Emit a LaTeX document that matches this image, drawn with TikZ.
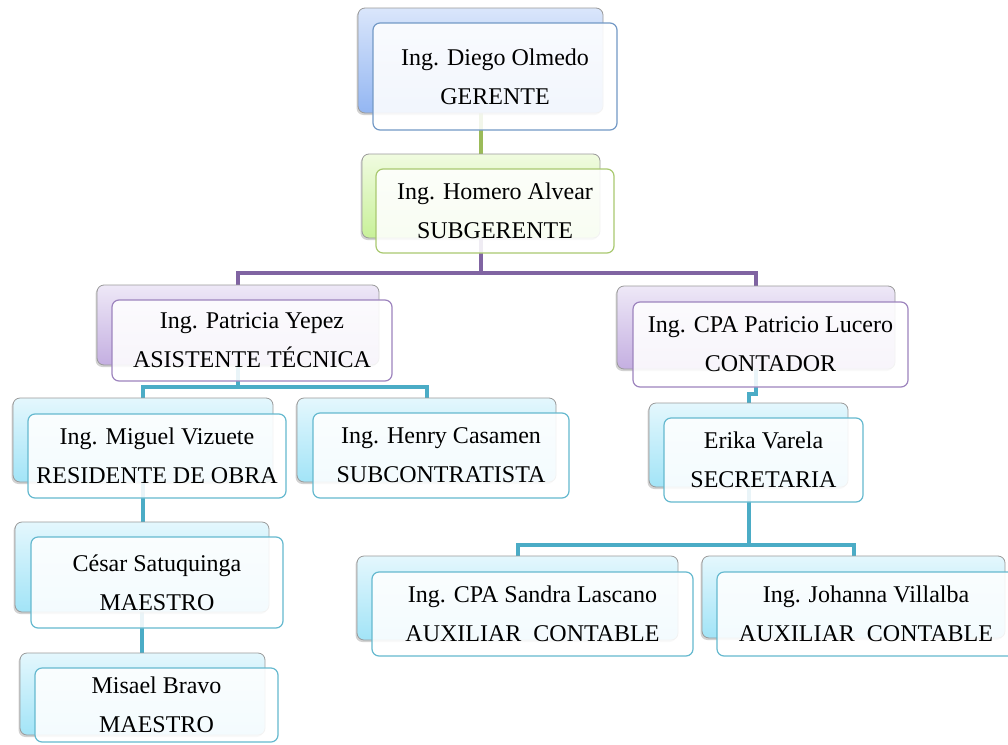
\documentclass[tikz,border=0pt]{standalone}
\usepackage{fontspec}
\setmainfont{Liberation Serif}
\usetikzlibrary{shadows}
\pgfdeclarelayer{bg}
\pgfsetlayers{bg,main}
\definecolor{bluetop}{HTML}{DAE6FB}
\definecolor{bluebot}{HTML}{93B6F2}
\definecolor{blueedge}{HTML}{7399C6}
\definecolor{greentop}{HTML}{F0FBE0}
\definecolor{greenbot}{HTML}{C8F199}
\definecolor{greenedge}{HTML}{A9C970}
\definecolor{greenline}{HTML}{9BBB59}
\definecolor{purptop}{HTML}{EEE8F7}
\definecolor{purpbot}{HTML}{C4AFE1}
\definecolor{purpedge}{HTML}{9D84BE}
\definecolor{purpline}{HTML}{8064A2}
\definecolor{tealtop}{HTML}{E4F7FD}
\definecolor{tealbot}{HTML}{A2E4F7}
\definecolor{tealedge}{HTML}{65B9CF}
\definecolor{tealline}{HTML}{4BACC6}
\definecolor{backedge}{HTML}{9A9A9A}
\begin{document}
\begin{tikzpicture}[x=1pt,y=-1pt,
  back/.style={rectangle, rounded corners=7pt, inner sep=0pt, draw=backedge, line width=0.8pt,
     drop shadow={opacity=0.35, shadow xshift=-1.5pt, shadow yshift=-2pt}},
  bblue/.style={back, top color=bluetop, bottom color=bluebot},
  bgreen/.style={back, top color=greentop, bottom color=greenbot},
  bpurp/.style={back, top color=purptop, bottom color=purpbot},
  bteal/.style={back, top color=tealtop, bottom color=tealbot},
  front/.style={rectangle, rounded corners=7pt, inner sep=0pt, line width=1.2pt,
     fill=white, fill opacity=0.88, text opacity=1, align=center,
     font=\fontsize{24}{39}\selectfont},
  fblue/.style={front, draw=blueedge},
  fgreen/.style={front, draw=greenedge},
  fpurp/.style={front, draw=purpedge},
  fteal/.style={front, draw=tealedge},
  conn/.style={line width=4pt},
]
\useasboundingbox (0,0) rectangle (1008,744);

% back boxes
\node[bblue, minimum width=245, minimum height=105] (gB) at (480.5,60.5) {};
\node[bgreen, minimum width=238, minimum height=84] (sB) at (481,196) {};
\node[bpurp, minimum width=282, minimum height=80] (pB) at (238,325) {};
\node[bpurp, minimum width=278, minimum height=83] (cB) at (756,327.5) {};
\node[bteal, minimum width=260, minimum height=84] (mB) at (143,440) {};
\node[bteal, minimum width=259, minimum height=84] (hB) at (426.5,440) {};
\node[bteal, minimum width=199, minimum height=84] (eB) at (748.5,445) {};
\node[bteal, minimum width=254, minimum height=90] (ceB) at (142,567) {};
\node[bteal, minimum width=245, minimum height=82] (miB) at (142.5,694) {};
\node[bteal, minimum width=321, minimum height=84] (saB) at (517.5,598) {};
\node[bteal, minimum width=303, minimum height=82] (jB) at (853.5,597) {};

% bus coordinates
\coordinate (bus1) at (0,273);
\coordinate (bus2) at (0,387);
\coordinate (bus3) at (0,394);
\coordinate (bus4) at (0,545);

% connectors behind the boxes
\begin{pgfonlayer}{bg}
\fill[white] (0,0) rectangle (1008,744);
\draw[conn, greenline] (gB.south) -- (gB.south |- sB.north);
\draw[conn, purpline] (sB.south) -- (sB.south |- bus1) -| (pB.north);
\draw[conn, purpline] (sB.south |- bus1) -| (cB.north);
\draw[conn, tealline] (pB.south) -- (pB.south |- bus2) -| (mB.north);
\draw[conn, tealline] (pB.south |- bus2) -| (hB.north);
\draw[conn, tealline] (cB.south) -- (cB.south |- bus3) -| (eB.north);
\draw[conn, tealline] (mB.south) -- (mB.south |- ceB.north);
\draw[conn, tealline] (ceB.south) -- (ceB.south |- miB.north);
\draw[conn, tealline] (eB.south) -- (eB.south |- bus4) -| (saB.north);
\draw[conn, tealline] (eB.south |- bus4) -| (jB.north);
\end{pgfonlayer}

% front boxes with text
\node[fblue, minimum width=244, minimum height=107] (g) at (495,76.5) {Ing. Diego Olmedo\\GERENTE};
\node[fgreen, minimum width=238, minimum height=84] (s) at (495,211) {Ing. Homero Alvear\\SUBGERENTE};
\node[fpurp, minimum width=280, minimum height=81] (p) at (252,340.5) {Ing. Patricia Yepez\\ASISTENTE TÉCNICA};
\node[fpurp, minimum width=275, minimum height=85] (c) at (770.5,344.5) {Ing. CPA Patricio Lucero\\CONTADOR};
\node[fteal, minimum width=258, minimum height=84] (m) at (157,456) {Ing. Miguel Vizuete\\RESIDENTE DE OBRA};
\node[fteal, minimum width=256, minimum height=85] (h) at (441,455.5) {Ing. Henry Casamen\\SUBCONTRATISTA};
\node[fteal, minimum width=199, minimum height=84] (e) at (763.5,460) {Erika Varela\\SECRETARIA};
\node[fteal, minimum width=252, minimum height=91] (ce) at (157,582.5) {César Satuquinga\\MAESTRO};
\node[fteal, minimum width=243, minimum height=74] (mi) at (156.5,705) {Misael Bravo\\MAESTRO};
\node[fteal, minimum width=321, minimum height=84] (sa) at (532.5,614) {Ing. CPA Sandra Lascano\\AUXILIAR\ \ CONTABLE};
\node[fteal, minimum width=298, minimum height=84] (j) at (866,614) {Ing. Johanna Villalba\\AUXILIAR\ \ CONTABLE};
\end{tikzpicture}
\end{document}
